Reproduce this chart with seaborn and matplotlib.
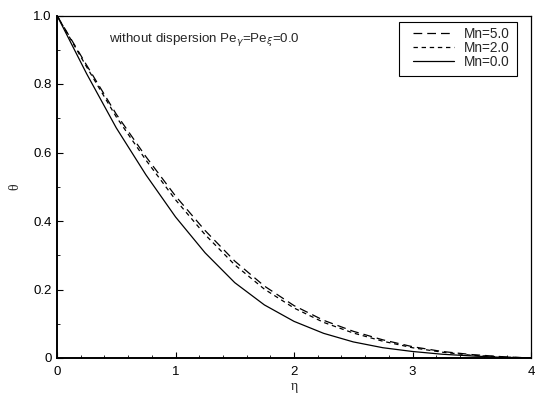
import matplotlib
matplotlib.use("Agg")
import matplotlib.pyplot as plt
from matplotlib.ticker import MultipleLocator, FixedLocator
from matplotlib.patches import Rectangle
import seaborn as sns
import pandas as pd

eta = [0.0, 0.25, 0.5, 0.75, 1.0, 1.25, 1.5, 1.75, 2.0, 2.25, 2.5, 2.75, 3.0, 3.25, 3.5, 3.75, 4.0]
theta_mn5 = [1.0, 0.855, 0.712, 0.588, 0.473, 0.372, 0.283, 0.210, 0.153, 0.110, 0.078, 0.053, 0.033, 0.019, 0.010, 0.004, 0.0]
theta_mn2 = [1.0, 0.850, 0.704, 0.578, 0.462, 0.360, 0.272, 0.201, 0.146, 0.104, 0.073, 0.049, 0.030, 0.017, 0.008, 0.003, 0.0]
theta_mn0 = [1.0, 0.830, 0.672, 0.535, 0.412, 0.307, 0.220, 0.155, 0.107, 0.072, 0.047, 0.030, 0.019, 0.011, 0.006, 0.002, 0.0]
labels = ["Mn=5.0", "Mn=2.0", "Mn=0.0"]
annotation = r"without dispersion Pe$_{\gamma}$=Pe$_{\xi}$=0.0"
xticks = [0, 1, 2, 3, 4]
xticklabels = ["0", "1", "2", "3", "4"]
yticks = [0, 0.2, 0.4, 0.6, 0.8, 1.0]
yticklabels = ["0", "0.2", "0.4", "0.6", "0.8", "1.0"]

sns.set_style("ticks")
plt.rcParams["font.family"] = ["Liberation Sans", "DejaVu Sans"]

L, R, T, B = 57, 531, 15.5, 358
fig = plt.figure(figsize=(5.35, 3.97), dpi=100)
ax = fig.add_axes([L / 535, 1 - B / 397, (R - L) / 535, (B - T) / 397])

styles = [(0, (7, 4)), (0, (3.5, 3)), "-"]
for ys, lab, ls in zip([theta_mn5, theta_mn2, theta_mn0], labels, styles):
    df = pd.DataFrame({"eta": eta, "theta": ys})
    sns.lineplot(data=df, x="eta", y="theta", ax=ax, color="black",
                 linewidth=0.9, linestyle=ls, label=lab)

ax.set_xlim(0, 4)
ax.set_ylim(0, 1.0)
ax.xaxis.set_major_locator(FixedLocator(xticks))
ax.set_xticklabels(xticklabels)
ax.yaxis.set_major_locator(FixedLocator(yticks))
ax.set_yticklabels(yticklabels)
ax.xaxis.set_minor_locator(MultipleLocator(0.2))
ax.yaxis.set_minor_locator(MultipleLocator(0.1))
ax.tick_params(which="both", direction="in", top=False, right=False,
               labelsize=9.5, colors="black")
ax.tick_params(axis="x", which="both", pad=6)
ax.tick_params(axis="y", which="both", pad=4)
ax.tick_params(which="major", length=4, width=0.8)
ax.tick_params(which="minor", length=2, width=0.6)

for s in ["left", "bottom"]:
    ax.spines[s].set_linewidth(1.4)
for s in ["top", "right"]:
    ax.spines[s].set_visible(True)
    ax.spines[s].set_linewidth(0.9)
for s in ax.spines.values():
    s.set_color("black")

ax.set_xlabel("η", family=["Liberation Serif", "DejaVu Serif"], fontsize=10, labelpad=1)
ax.set_ylabel("θ", family=["Liberation Serif", "DejaVu Serif"], fontsize=10, labelpad=8)

ax.text(0.44, 0.93, annotation, fontsize=9.6, va="center", ha="left")

# legend frame (taller at the bottom, as in the reference)
W, H = R - L, B - T
x0 = (399 - L) / W
x1 = (517 - L) / W
y0 = (B - 75.7) / H
y1 = (B - 22.3) / H
ax.add_patch(Rectangle((x0, y0), x1 - x0, y1 - y0, transform=ax.transAxes,
                       fill=True, facecolor="white", edgecolor="black",
                       linewidth=0.8, zorder=4))

leg = ax.legend(loc="upper left", bbox_to_anchor=((413 - L) / W, (B - 26.5) / H),
                fontsize=9.8, frameon=False,
                handlelength=3.0, handletextpad=0.75, labelspacing=0.0,
                borderpad=0, borderaxespad=0)
leg.set_zorder(5)

fig.savefig("out.png", dpi=100)
